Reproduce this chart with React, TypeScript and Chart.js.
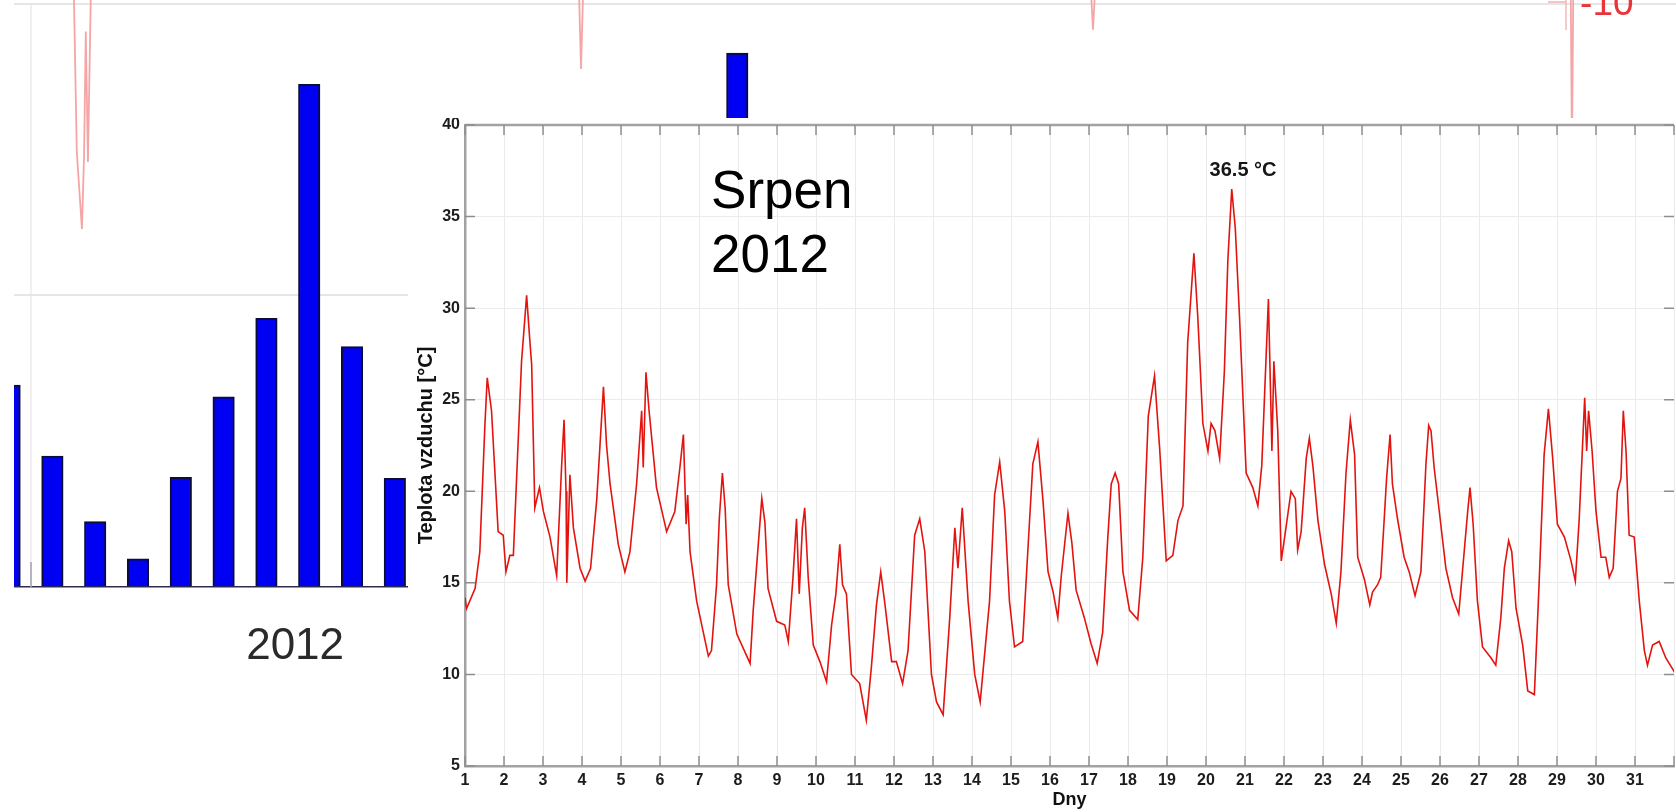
import { useEffect, useRef } from "react";
import { Chart, registerables } from "chart.js";

Chart.register(...registerables);

const FONT = "'Liberation Sans', Arial, Helvetica, sans-serif";

// ---------- main chart data (Srpen 2012, air temperature) ----------
const dayPositions = [
  1.0, 1.04, 1.26, 1.38, 1.51, 1.57, 1.68, 1.85, 1.98, 2.05, 2.15, 2.24, 2.45, 2.58, 2.67, 2.71, 2.79, 2.91,
  3.01, 3.18, 3.35, 3.48, 3.54, 3.59, 3.61, 3.69, 3.78, 3.95, 4.08, 4.22, 4.38, 4.55, 4.63, 4.72, 4.93,
  5.1, 5.23, 5.4, 5.53, 5.57, 5.64, 5.72, 5.91, 6.17, 6.38, 6.51, 6.6, 6.67, 6.71, 6.77, 6.94, 7.24, 7.32,
  7.45, 7.52, 7.6, 7.67, 7.75, 7.97, 8.31, 8.39, 8.61, 8.69, 8.77, 8.99, 9.2, 9.29, 9.41, 9.5, 9.57, 9.65,
  9.71, 9.8, 9.93, 10.1, 10.27, 10.4, 10.51, 10.61, 10.68, 10.78, 10.91, 11.12, 11.29, 11.42, 11.55, 11.66,
  11.77, 11.94, 12.06, 12.22, 12.36, 12.53, 12.66, 12.79, 12.96, 13.09, 13.26, 13.43, 13.56, 13.64, 13.75,
  13.9, 14.07, 14.21, 14.45, 14.58, 14.71, 14.84, 14.96, 15.09, 15.3, 15.43, 15.56, 15.69, 15.82, 15.95,
  16.08, 16.2, 16.29, 16.46, 16.56, 16.67, 16.88, 17.05, 17.21, 17.35, 17.48, 17.57, 17.67, 17.76, 17.87,
  18.04, 18.25, 18.38, 18.52, 18.68, 18.81, 18.98, 19.15, 19.28, 19.41, 19.53, 19.69, 19.79, 19.92, 20.05,
  20.13, 20.23, 20.35, 20.47, 20.56, 20.66, 20.75, 20.86, 21.03, 21.2, 21.33, 21.43, 21.6, 21.69, 21.74,
  21.84, 21.93, 22.05, 22.18, 22.29, 22.35, 22.44, 22.57, 22.65, 22.74, 22.87, 23.04, 23.21, 23.34, 23.46,
  23.59, 23.7, 23.81, 23.89, 24.06, 24.2, 24.27, 24.4, 24.48, 24.57, 24.63, 24.72, 24.78, 24.91, 25.08,
  25.21, 25.36, 25.51, 25.64, 25.71, 25.77, 25.85, 26.02, 26.15, 26.32, 26.48, 26.62, 26.71, 26.77, 26.85,
  26.96, 27.09, 27.31, 27.43, 27.56, 27.65, 27.76, 27.84, 27.95, 28.12, 28.25, 28.42, 28.54, 28.67, 28.78,
  28.89, 29.01, 29.19, 29.36, 29.47, 29.57, 29.71, 29.76, 29.81, 29.9, 30.0, 30.13, 30.25, 30.34, 30.44,
  30.55, 30.64, 30.7, 30.77, 30.85, 30.98, 31.11, 31.24, 31.32, 31.45, 31.62, 31.79, 32.05,
];

const airTemps = [
  14.2, 13.6, 14.7, 16.7, 23.6, 26.2, 24.4, 17.8, 17.6, 15.6, 16.5, 16.5, 27.1, 30.7, 28.0, 26.9, 19.1, 20.2,
  18.9, 17.5, 15.4, 21.5, 23.9, 20.0, 15.0, 20.9, 18.0, 15.8, 15.1, 15.8, 19.6, 25.7, 22.5, 20.4, 17.1,
  15.6, 16.7, 20.4, 24.4, 21.3, 26.5, 24.4, 20.2, 17.8, 18.9, 21.3, 23.1, 18.2, 19.8, 16.7, 14.0, 11.0, 11.3,
  14.9, 18.5, 21.0, 19.1, 14.9, 12.2, 10.6, 13.5, 19.6, 18.3, 14.7, 12.9, 12.7, 11.8, 15.3, 18.5, 14.4, 18.0,
  19.1, 15.3, 11.6, 10.7, 9.6, 12.7, 14.4, 17.1, 14.9, 14.4, 10.0, 9.5, 7.5, 10.4, 13.8, 15.6,
  13.8, 10.7, 10.7, 9.5, 11.3, 17.6, 18.5, 16.7, 10.0, 8.5, 7.8, 13.1, 18.0, 15.8, 19.1,
  14.0, 10.0, 8.5, 14.0, 19.8, 21.6, 18.9, 14.0, 11.5, 11.8, 16.7, 21.5, 22.7, 19.5, 15.6,
  14.5, 13.1, 15.4, 18.8, 17.2, 14.6, 13.1, 11.7, 10.6, 12.3, 17.4, 20.4, 21.0, 20.4, 15.6,
  13.5, 13.0, 16.4, 24.1, 26.3, 22.4, 16.2, 16.5, 18.4, 19.2, 28.1, 33.0, 29.5, 23.7, 22.2,
  23.7, 23.3, 21.8, 26.5, 32.6, 36.5, 34.4, 29.5, 21.0, 20.2, 19.2, 21.4, 30.5, 22.2, 27.1,
  23.3, 16.2, 18.0, 20.0, 19.6, 16.8, 17.8, 21.8, 22.9, 21.4, 18.4, 16.0, 14.4, 12.8, 15.6,
  21.0, 23.9, 22.0, 16.4, 15.2, 13.8, 14.5, 14.9, 15.3, 18.5, 20.7, 23.1, 20.4, 18.5, 16.4,
  15.6, 14.3, 15.6, 21.5, 23.6, 23.3, 21.3, 18.2, 15.8, 14.2, 13.3, 16.7, 18.9, 20.2, 18.2,
  14.0, 11.5, 10.9, 10.5, 13.1, 15.8, 17.3, 16.7, 13.6, 11.6, 9.1, 8.9, 14.9, 22.0, 24.5,
  21.8, 18.2, 17.5, 16.2, 15.1, 18.5, 25.1, 22.2, 24.4, 22.2, 18.9, 16.4, 16.4, 15.3, 15.8,
  20.0, 20.7, 24.4, 22.2, 17.6, 17.5, 14.0, 11.3, 10.5, 11.6, 11.8, 10.9, 10.0,
];

const dayTicks = [
  1, 2, 3, 4, 5, 6, 7, 8, 9, 10, 11, 12, 13, 14, 15, 16, 17, 18, 19, 20, 21, 22, 23, 24, 25, 26, 27, 28, 29, 30,
  31, 32,
];
const dayTickLabels = [
  "1", "2", "3", "4", "5", "6", "7", "8", "9", "10", "11", "12", "13", "14", "15", "16", "17", "18", "19",
  "20", "21", "22", "23", "24", "25", "26", "27", "28", "29", "30", "31", "",
];
const tempTicks = [5, 10, 15, 20, 25, 30, 35, 40];
const tempTickLabels = ["5", "10", "15", "20", "25", "30", "35", "40"];

const xTitle = "Dny";
const yTitle = "Teplota vzduchu [°C]";
const peakLabel = "36.5 °C";
const peakLabelAt = [20.95, 37.5];
const monthLines = ["Srpen", "2012"];
const monthLinesAt = [
  [7.31, 35.47],
  [7.31, 31.98],
];

// ---------- background (partly hidden) bar chart ----------
const bgBarIndex = [0, 1, 2, 3, 4, 5, 6, 7, 8, 9, 10, 11, 12, 13, 14, 15, 16, 17];
const bgBarValues = [
  69.2, 44.9, 22.4, 9.7, 37.6, 65.2, 92.1, 172.3, 82.4, 37.3, null, null, null, null, null, null, null, 183,
];
const bgGridValues = [0, 100, 200];
const bgYearLabel = "2012";
const bgYearAt = [6.67, -24.7];
const bgTraceX = [
  1.5, 1.57, 1.69, 1.74, 1.78, 1.83, 1.9, null, 13.3, 13.35, 13.4, null, 25.26, 25.31, 25.36, null, 36.47, 36.5,
  36.53,
];
const bgTraceY = [
  205, 149.1, 122.7, 147.8, 190.4, 145.7, 205, null, 205, 177.6, 205, null, 205, 191.0, 205, null, 205, 150, 205,
];
const bgAxisLabel = "-10";
const bgAxisLabelAt = [36.69, 196.1];

export default function App() {
  const bgRef = useRef<HTMLCanvasElement | null>(null);
  const mainRef = useRef<HTMLCanvasElement | null>(null);

  useEffect(() => {
    if (!bgRef.current || !mainRef.current) return;

    const bgDecor = {
      id: "bgDecor",
      beforeDraw(chart: any) {
        const { ctx } = chart;
        ctx.save();
        ctx.fillStyle = "#ffffff";
        ctx.fillRect(0, 0, chart.width, chart.height);
        ctx.restore();
      },
      afterDatasetsDraw(chart: any) {
        const { ctx } = chart;
        const x = chart.scales.x;
        const y = chart.scales.y;
        ctx.save();
        // faint vertical line near the left
        const vx = x.getPixelForValue(0.5);
        ctx.strokeStyle = "#e6e6ea";
        ctx.lineWidth = 1.2;
        ctx.beginPath();
        ctx.moveTo(vx, y.getPixelForValue(200));
        ctx.lineTo(vx, y.getPixelForValue(0));
        ctx.stroke();
        ctx.strokeStyle = "#8a8aa0";
        ctx.beginPath();
        ctx.moveTo(vx, y.getPixelForValue(8.6));
        ctx.lineTo(vx, y.getPixelForValue(0));
        ctx.stroke();
        // stub of an axis belonging to the pink trace
        const ax = x.getPixelForValue(36.36);
        ctx.strokeStyle = "#f0b4b4";
        ctx.lineWidth = 1.4;
        ctx.beginPath();
        ctx.moveTo(ax, 0);
        ctx.lineTo(ax, y.getPixelForValue(190.9));
        ctx.moveTo(ax - 18, y.getPixelForValue(200.5));
        ctx.lineTo(ax, y.getPixelForValue(200.5));
        ctx.stroke();
        // texts
        ctx.fillStyle = "#2a2a2a";
        ctx.font = `44px ${FONT}`;
        ctx.textAlign = "center";
        ctx.textBaseline = "alphabetic";
        ctx.fillText(bgYearLabel, x.getPixelForValue(bgYearAt[0]), y.getPixelForValue(bgYearAt[1]));
        ctx.fillStyle = "#e8343a";
        ctx.font = `37px ${FONT}`;
        ctx.textAlign = "left";
        ctx.fillText(bgAxisLabel, x.getPixelForValue(bgAxisLabelAt[0]), y.getPixelForValue(bgAxisLabelAt[1]));
        ctx.restore();
      },
    };

    const bgChart = new Chart(bgRef.current, {
      type: "bar",
      data: {
        datasets: [
          {
            type: "bar",
            data: bgBarIndex.map((v, i) => ({ x: v, y: bgBarValues[i] })) as any,
            backgroundColor: "#0000f2",
            borderColor: "#0c0c38",
            borderWidth: 2,
            barThickness: 21.5,
          } as any,
          {
            type: "line",
            data: bgTraceX.map((v, i) => (v === null ? { x: NaN, y: null } : { x: v, y: bgTraceY[i] })) as any,
            borderColor: "#f4a6a6",
            borderWidth: 1.8,
            pointRadius: 0,
            spanGaps: false,
            tension: 0,
          } as any,
        ],
      },
      options: {
        responsive: false,
        animation: false,
        events: [],
        layout: { padding: { left: 14, right: 0, top: 0, bottom: 0 } },
        plugins: { legend: { display: false }, tooltip: { enabled: false } },
        scales: {
          x: {
            type: "linear",
            display: false,
            offset: false,
            grid: { offset: false },
            min: 0.103,
            max: 38.93,
          },
          y: {
            type: "linear",
            min: -77.1,
            max: 201.2,
            afterBuildTicks: (s: any) => {
              s.ticks = bgGridValues.map((v) => ({ value: v }));
            },
            afterFit: (s: any) => {
              s.width = 0;
              s.paddingTop = 0;
              s.paddingBottom = 0;
            },
            ticks: { display: false },
            border: { display: false },
            grid: {
              drawTicks: false,
              color: (c: any) => (c.tick && c.tick.value === 0 ? "#2c2c4c" : "#e6e6e6"),
              lineWidth: (c: any) => (c.tick && c.tick.value === 0 ? 1.6 : 2),
            },
          },
        },
      } as any,
      plugins: [bgDecor],
    });

    const mainDecor = {
      id: "mainDecor",
      beforeDraw(chart: any) {
        const { ctx } = chart;
        ctx.save();
        ctx.fillStyle = "#ffffff";
        ctx.fillRect(0, 0, chart.width, chart.height);
        ctx.restore();
      },
      afterDatasetsDraw(chart: any) {
        const { ctx, chartArea } = chart;
        const { left, right, top, bottom } = chartArea;
        const x = chart.scales.x;
        const y = chart.scales.y;
        ctx.save();
        ctx.strokeStyle = "#a2a2a2";
        ctx.lineWidth = 2.5;
        ctx.beginPath();
        ctx.moveTo(left, top);
        ctx.lineTo(right, top);
        ctx.stroke();
        ctx.strokeStyle = "#8e8e8e";
        ctx.lineWidth = 1.5;
        ctx.beginPath();
        dayTicks.forEach((v) => {
          const px = x.getPixelForValue(v);
          ctx.moveTo(px, bottom);
          ctx.lineTo(px, bottom - 10);
          ctx.moveTo(px, top);
          ctx.lineTo(px, top + 10);
        });
        tempTicks.forEach((v) => {
          const py = y.getPixelForValue(v);
          ctx.moveTo(left, py);
          ctx.lineTo(left + 10, py);
          ctx.moveTo(right, py);
          ctx.lineTo(right - 10, py);
        });
        ctx.stroke();

        ctx.fillStyle = "#161616";
        ctx.font = `bold 20px ${FONT}`;
        ctx.textAlign = "center";
        ctx.textBaseline = "middle";
        ctx.fillText(peakLabel, x.getPixelForValue(peakLabelAt[0]), y.getPixelForValue(peakLabelAt[1]));

        ctx.fillStyle = "#000000";
        ctx.font = `53px ${FONT}`;
        ctx.textAlign = "left";
        ctx.textBaseline = "alphabetic";
        monthLines.forEach((t, i) => {
          ctx.fillText(t, x.getPixelForValue(monthLinesAt[i][0]), y.getPixelForValue(monthLinesAt[i][1]));
        });
        ctx.restore();
      },
    };

    const tickFont = { family: FONT, size: 16, weight: "bold" as const };

    const mainChart = new Chart(mainRef.current, {
      type: "line",
      data: {
        datasets: [
          {
            data: dayPositions.map((d, i) => ({ x: d, y: airTemps[i] })),
            borderColor: "#e3140f",
            borderWidth: 1.6,
            pointRadius: 0,
            tension: 0,
            fill: false,
          },
        ],
      },
      options: {
        responsive: false,
        animation: false,
        events: [],
        layout: { padding: { left: 0, right: 2, top: 7, bottom: 0 } },
        plugins: { legend: { display: false }, tooltip: { enabled: false } },
        scales: {
          x: {
            type: "linear",
            min: 1,
            max: 32,
            afterBuildTicks: (s: any) => {
              s.ticks = dayTicks.map((v) => ({ value: v }));
            },
            afterFit: (s: any) => {
              s.height = 46;
              s.paddingLeft = 0;
              s.paddingRight = 0;
            },
            ticks: {
              autoSkip: false,
              maxRotation: 0,
              padding: 5,
              color: "#1c1c1c",
              font: tickFont,
              callback: (_v: any, i: number) => dayTickLabels[i] ?? "",
            },
            grid: { color: "#ebebeb", lineWidth: 1, drawTicks: false },
            border: { display: true, color: "#a2a2a2", width: 2.5 },
            title: {
              display: true,
              text: xTitle,
              color: "#111111",
              font: { family: FONT, size: 18, weight: "bold" },
              padding: { top: 0, bottom: 1 },
            },
          },
          y: {
            type: "linear",
            min: 5,
            max: 40,
            afterBuildTicks: (s: any) => {
              s.ticks = tempTicks.map((v) => ({ value: v }));
            },
            afterFit: (s: any) => {
              s.width = 57;
              s.paddingTop = 0;
              s.paddingBottom = 0;
            },
            ticks: {
              padding: 5,
              color: "#1c1c1c",
              font: tickFont,
              callback: (_v: any, i: number) => tempTickLabels[i] ?? "",
            },
            grid: { color: "#ebebeb", lineWidth: 1, drawTicks: false },
            border: { display: true, color: "#a2a2a2", width: 2.5 },
            title: {
              display: true,
              text: yTitle,
              color: "#111111",
              font: { family: FONT, size: 20, weight: "bold" },
              padding: { top: 6, bottom: 0 },
            },
          },
        },
      } as any,
      plugins: [mainDecor],
    });

    return () => {
      bgChart.destroy();
      mainChart.destroy();
    };
  }, []);

  return (
    <div
      style={{
        position: "fixed",
        left: 0,
        top: 0,
        width: 1676,
        height: 812,
        overflow: "hidden",
        background: "#ffffff",
      }}
    >
      <canvas
        ref={bgRef}
        width={1676}
        height={812}
        style={{ position: "absolute", left: 0, top: 0, width: 1676, height: 812 }}
      />
      <canvas
        ref={mainRef}
        width={1268}
        height={694}
        style={{ position: "absolute", left: 408, top: 118, width: 1268, height: 694 }}
      />
    </div>
  );
}
